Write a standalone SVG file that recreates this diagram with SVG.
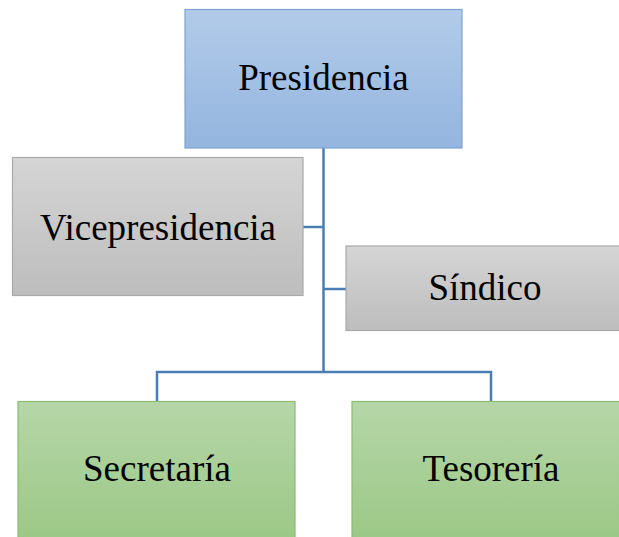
<svg xmlns="http://www.w3.org/2000/svg" width="619" height="537" viewBox="0 0 619 537">
<defs>
<linearGradient id="gBlue" x1="0" y1="0" x2="0" y2="1"><stop offset="0" stop-color="#b2cbe9"/><stop offset="1" stop-color="#94b5df"/></linearGradient>
<linearGradient id="gGray" x1="0" y1="0" x2="0" y2="1"><stop offset="0" stop-color="#d5d5d5"/><stop offset="1" stop-color="#bdbdbd"/></linearGradient>
<linearGradient id="gGreen" x1="0" y1="0" x2="0" y2="1"><stop offset="0" stop-color="#b6d6a8"/><stop offset="1" stop-color="#9bc886"/></linearGradient>
<style>
.lbl{font-family:"Liberation Serif","Times New Roman",serif;font-size:37px;fill:#000;text-anchor:middle}
.blue{fill:url(#gBlue);stroke:#7ea2d0;stroke-width:1.2}
.gray{fill:url(#gGray);stroke:#a9a9a9;stroke-width:1.2}
.green{fill:url(#gGreen);stroke:#88bd6e;stroke-width:1.2}
.conn{fill:none;stroke:#4a7db3;stroke-width:2.5}
</style>
</defs>
<g id="connectors">
<path class="conn" d="M323.5 148 V372"/>
<path class="conn" d="M303 227 H323.5"/>
<path class="conn" d="M323.5 289 H346"/>
<path class="conn" d="M157 401 V372 H491 V401"/>
</g>
<g id="presidencia"><rect class="blue" x="185" y="9.5" width="277" height="138.5"/><text class="lbl" x="323.5" y="90">Presidencia</text></g>
<g id="vicepresidencia"><rect class="gray" x="12.5" y="157.5" width="290.5" height="138"/><text class="lbl" x="158" y="240">Vicepresidencia</text></g>
<g id="sindico"><rect class="gray" x="346" y="246" width="275" height="84.5"/><text class="lbl" x="485" y="300">Síndico</text></g>
<g id="secretaria"><rect class="green" x="18" y="401.5" width="277" height="140"/><text class="lbl" x="157" y="481">Secretaría</text></g>
<g id="tesoreria"><rect class="green" x="352" y="401.5" width="275" height="140"/><text class="lbl" x="491" y="481">Tesorería</text></g>
</svg>
